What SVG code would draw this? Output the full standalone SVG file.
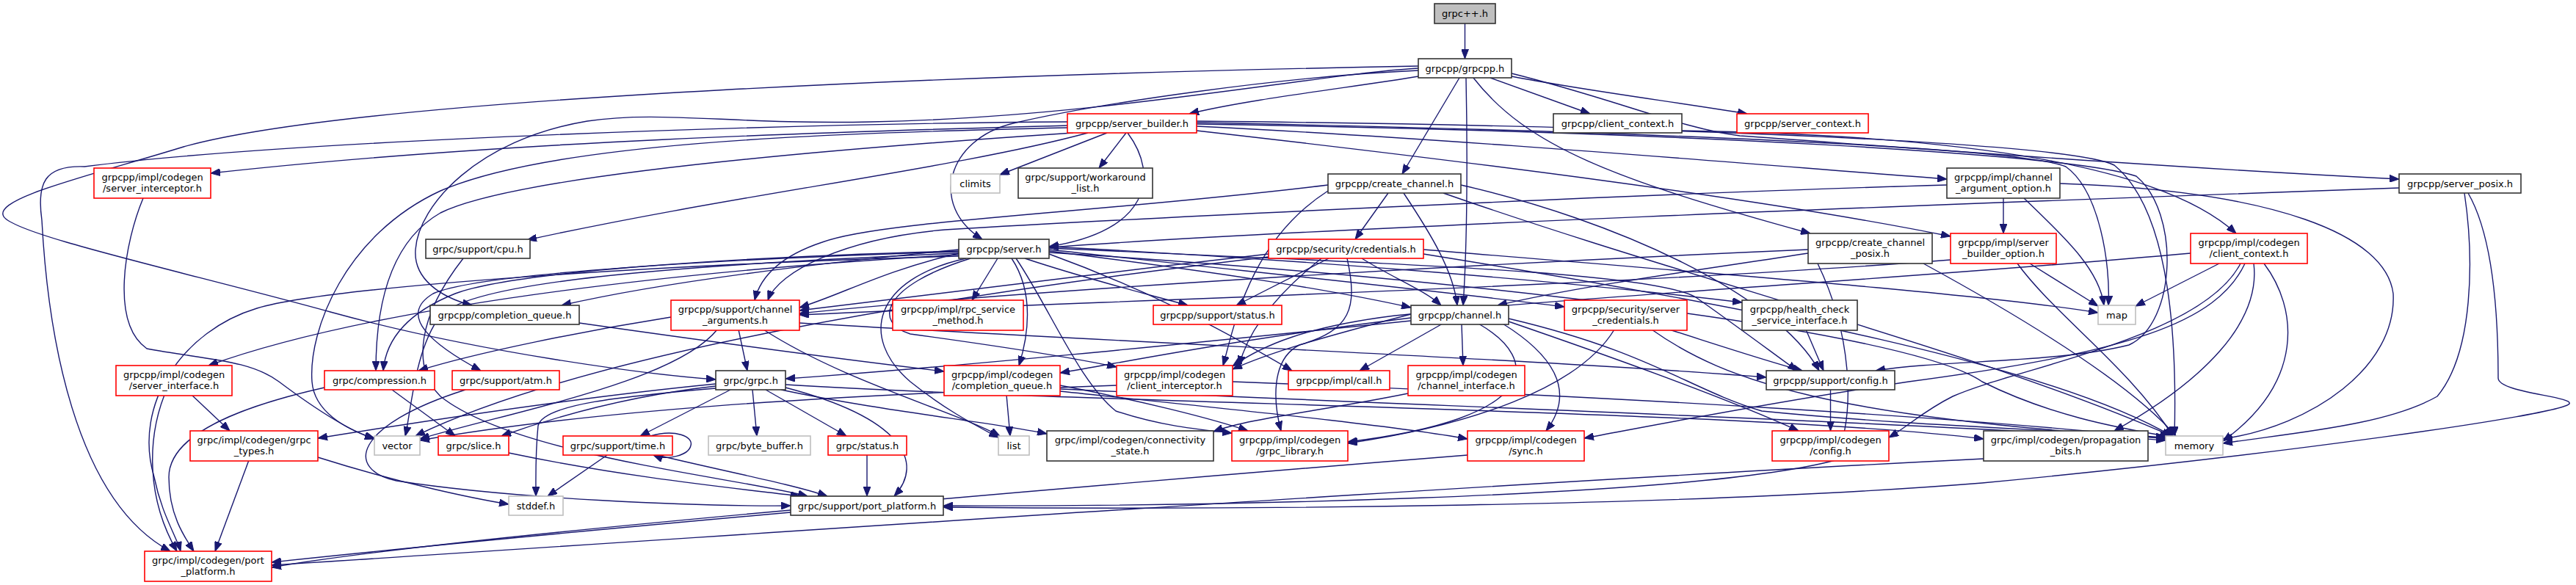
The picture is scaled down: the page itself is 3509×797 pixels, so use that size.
<svg xmlns="http://www.w3.org/2000/svg" width="3509" height="797" viewBox="0 0 3509 797">
<style>
.e{fill:none;stroke:#191970;stroke-width:1.4;marker-end:url(#ah)}
.n rect{fill:#fff;stroke:#333;stroke-width:1.6}
.r rect{fill:#fff;stroke:#ff0000;stroke-width:1.6}
.x rect{fill:#fff;stroke:#bfbfbf;stroke-width:1.6}
.root rect{fill:#bfbfbf;stroke:#333;stroke-width:1.6}
text{font-family:"DejaVu Sans","Liberation Sans",sans-serif;font-size:13px;text-anchor:middle;fill:#000}
</style>
<defs>
<marker id="ah" viewBox="0 0 13 10" refX="13" refY="5" markerUnits="userSpaceOnUse" markerWidth="13" markerHeight="10" orient="auto">
<path d="M0,0 L13,5 L0,10 z" fill="#191970" stroke="#191970"/>
</marker>
</defs>
<rect width="3509" height="797" fill="#fff"/>
<g id="edges">
<path class="e" d="M1995.5,32 L1995.5,80"/>
<path class="e" d="M1932,104 C1850,118 1700,135 1620,155"/>
<path class="e" d="M2030,106 L2166,155"/>
<path class="e" d="M2059,104 C2150,122 2290,140 2380,155"/>
<path class="e" d="M1988,106 L1910,237"/>
<path class="e" d="M1997,106 C1999,200 1999,330 1993,416"/>
<path class="e" d="M2007,106 C2080,200 2200,245 2466,318"/>
<path class="e" d="M2059,100 C2200,135 2290,175 2370,185 C2650,205 2950,228 3268,244"/>
<path class="e" d="M1932,96 C1750,104 1500,140 1380,168 C1290,190 1265,280 1338,326"/>
<path class="e" d="M1932,93 C1800,100 1500,160 1187,166 C1000,170 900,150 800,165 C650,190 570,280 566,340 C563,380 600,405 643,416"/>
<path class="e" d="M1932,90 C1400,100 500,130 250,200 C120,240 -10,270 5,295 C20,320 250,370 450,425 C650,480 880,510 975,517"/>
<path class="e" d="M1536,181 C1580,240 1565,315 1429,336"/>
<path class="e" d="M1508,181 L1362,238"/>
<path class="e" d="M1534,181 L1497,229"/>
<path class="e" d="M1482,181 C1300,230 1000,265 718,327"/>
<path class="e" d="M1454,171 C1200,178 700,190 287,236"/>
<path class="e" d="M1454,166 C1100,168 400,190 115,227 C60,225 50,250 57,300 C65,450 100,680 232,751"/>
<path class="e" d="M1454,174 C1100,182 750,195 600,260 C470,320 420,450 425,520 C428,560 470,585 510,597"/>
<path class="e" d="M1462,181 C1100,205 700,240 600,290 C530,330 512,420 512,505"/>
<path class="e" d="M1630,172 C2000,190 2400,225 2652,244"/>
<path class="e" d="M1630,178 C2000,220 2400,270 2657,322"/>
<path class="e" d="M1630,167 C2200,178 2750,200 2814,227 C2860,260 2875,360 2872,416"/>
<path class="e" d="M1630,165 C2300,172 2820,195 2880,225 C2960,290 2965,480 2962,594"/>
<path class="e" d="M1630,169 C2300,180 2820,210 2910,240 C2970,290 2965,440 2900,470 C2800,495 2650,490 2555,505"/>
<path class="e" d="M1306,345 C1200,370 1150,400 1089,419"/>
<path class="e" d="M1359,352 L1324,409"/>
<path class="e" d="M1396,352 C1480,380 1560,400 1618,416"/>
<path class="e" d="M1378,352 C1410,400 1400,460 1388,498"/>
<path class="e" d="M1316,352 C1190,380 1170,460 1240,520 C1290,560 1330,580 1360,596"/>
<path class="e" d="M1322,352 C1200,390 1190,440 1240,455 C1350,470 1450,485 1521,500"/>
<path class="e" d="M1384,352 C1430,420 1470,520 1520,560 C1580,580 1630,585 1678,590"/>
<path class="e" d="M1429,340 C1700,370 1950,395 2131,418"/>
<path class="e" d="M1429,336 C1800,355 2150,385 2373,412"/>
<path class="e" d="M1429,338 C1900,360 2250,370 2310,405 C2360,440 2400,470 2448,505"/>
<path class="e" d="M1429,342 C1650,370 1800,392 1922,419"/>
<path class="e" d="M1429,346 C1550,390 1650,440 1760,505"/>
<path class="e" d="M1306,340 C1100,360 900,385 765,416"/>
<path class="e" d="M1306,342 C1000,350 700,370 620,400 C545,430 525,470 522,505"/>
<path class="e" d="M1306,343 C1000,352 650,372 590,400 C540,430 590,470 655,505"/>
<path class="e" d="M1306,345 C900,362 640,385 600,430 C565,475 560,560 552,594"/>
<path class="e" d="M1429,344 C2000,380 2600,450 2700,520 C2800,570 2900,585 2955,595"/>
<path class="e" d="M1306,347 C900,370 500,420 284,498"/>
<path class="e" d="M1306,349 C900,360 450,390 350,420 C250,450 180,550 210,650 C220,700 240,730 246,751"/>
<path class="e" d="M1891,263 L1846,326"/>
<path class="e" d="M1912,263 C1950,320 1980,370 1985,416"/>
<path class="e" d="M1809,252 C1500,290 1200,300 1120,330 C1060,350 1035,380 1028,409"/>
<path class="e" d="M1809,260 C1700,330 1680,450 1666,498"/>
<path class="e" d="M1966,263 C2300,380 2700,480 2958,594"/>
<path class="e" d="M1990,252 C2200,300 2420,400 2478,505"/>
<path class="e" d="M1855,352 C1900,380 1940,395 1963,416"/>
<path class="e" d="M1810,352 L1684,416"/>
<path class="e" d="M1800,352 C1740,400 1700,450 1688,498"/>
<path class="e" d="M1835,352 C1850,420 1840,450 1770,470 C1730,490 1735,550 1745,587"/>
<path class="e" d="M1728,346 C1500,372 1250,402 1089,423"/>
<path class="e" d="M1939,340 C2300,370 2700,400 2858,426"/>
<path class="e" d="M1939,346 C2400,420 2800,500 2960,595"/>
<path class="e" d="M1728,350 C1300,400 800,480 566,594"/>
<path class="e" d="M2463,345 C2300,370 2150,390 2040,416"/>
<path class="e" d="M2463,340 C2000,360 1400,395 1089,427"/>
<path class="e" d="M2476,359 C2520,450 2530,560 2500,627 C2300,680 1600,690 1285,689"/>
<path class="e" d="M2620,359 C2750,430 2900,520 2964,594"/>
<path class="e" d="M3268,256 C2600,280 1800,310 1429,337"/>
<path class="e" d="M3357,263 C3370,350 3370,480 3320,540 C3250,580 3120,590 3028,604"/>
<path class="e" d="M3362,263 C3395,320 3403,420 3403,515 C3403,535 3505,540 3500,550 C3490,565 3100,620 2700,658 C2300,690 1700,695 1285,691"/>
<path class="e" d="M2291,178 C2700,185 2950,230 3046,318"/>
<path class="e" d="M2729,270 L2729,318"/>
<path class="e" d="M2757,270 C2820,330 2860,370 2866,416"/>
<path class="e" d="M2806,250 C3100,260 3250,320 3260,400 C3265,500 3150,580 3028,598"/>
<path class="e" d="M2652,252 C2200,265 1500,300 1287,313 C1150,325 1060,370 1046,409"/>
<path class="e" d="M2765,359 L2858,417"/>
<path class="e" d="M2748,359 C2800,430 2900,500 2960,594"/>
<path class="e" d="M2657,354 C2200,390 1500,410 1089,429"/>
<path class="e" d="M3023,359 L2909,417"/>
<path class="e" d="M3084,359 C3130,420 3140,520 3028,601"/>
<path class="e" d="M3070,359 C3080,440 3000,520 2880,587"/>
<path class="e" d="M3052,359 C3000,460 2750,500 2660,540 C2620,560 2600,580 2573,596"/>
<path class="e" d="M3058,359 C3020,440 2900,480 2600,520 C2400,550 2250,580 2158,597"/>
<path class="e" d="M2984,345 C2600,380 2200,400 1900,430 C1780,445 1720,470 1679,499"/>
<path class="e" d="M1965,441 L1852,505"/>
<path class="e" d="M1991,441 L1993,498"/>
<path class="e" d="M2047,441 C2110,480 2150,530 2106,587"/>
<path class="e" d="M2055,438 C2250,505 2380,555 2450,587"/>
<path class="e" d="M2014,441 C2100,490 2100,570 1836,602"/>
<path class="e" d="M2055,434 C2250,480 2300,530 2400,560 C2600,580 2800,585 2950,596"/>
<path class="e" d="M1922,428 C1800,460 1730,480 1679,503"/>
<path class="e" d="M1922,433 C1700,460 1550,490 1444,508"/>
<path class="e" d="M1922,437 C1600,470 1300,500 1070,516"/>
<path class="e" d="M2274,449 C2340,470 2400,490 2455,505"/>
<path class="e" d="M2250,449 C2350,520 2500,570 2950,597"/>
<path class="e" d="M2199,449 C2150,530 2000,580 1836,604"/>
<path class="e" d="M2460,449 L2484,505"/>
<path class="e" d="M2493.5,531 L2493.5,587"/>
<path class="e" d="M1006,449 L1018,505"/>
<path class="e" d="M914,432 C800,450 650,480 570,505"/>
<path class="e" d="M977,449 C920,520 700,560 572,598"/>
<path class="e" d="M1040,449 C1150,520 1300,560 1362,594"/>
<path class="e" d="M1089,440 C1600,470 2100,490 2406,514"/>
<path class="e" d="M1025,531 L1031,594"/>
<path class="e" d="M1043,531 L1153,594"/>
<path class="e" d="M1064,531 C1200,560 1350,575 1426,591"/>
<path class="e" d="M1070,524 C1500,550 2400,560 2702,598"/>
<path class="e" d="M1070,528 C1230,570 1260,630 1218,676"/>
<path class="e" d="M975,523 C800,540 600,570 433,597"/>
<path class="e" d="M975,526 C850,540 750,570 683,594"/>
<path class="e" d="M995,531 L872,594"/>
<path class="e" d="M975,529 C850,540 740,550 733,580 C729,620 730,650 730,676"/>
<path class="e" d="M886,594 C920,584 945,595 941,607 C938,620 910,628 890,620"/>
<path class="e" d="M827,620 L746,676"/>
<path class="e" d="M895,620 C1000,645 1080,660 1127,676"/>
<path class="e" d="M693,617 C850,650 1000,665 1090,676"/>
<path class="e" d="M634,531 C480,580 470,640 540,655 C700,680 950,690 1077,689"/>
<path class="e" d="M1181,620 L1181,676"/>
<path class="e" d="M631,352 C570,430 560,500 600,540 C700,620 1000,650 1100,676"/>
<path class="e" d="M261,538 L313,587"/>
<path class="e" d="M224,538 C200,600 200,680 241,751"/>
<path class="e" d="M339,627 L293,751"/>
<path class="e" d="M433,623 C550,660 650,680 693,687"/>
<path class="e" d="M442,528 C300,560 230,600 230,650 C230,700 250,730 264,751"/>
<path class="e" d="M534,531 L620,594"/>
<path class="e" d="M195,270 C170,330 150,440 200,475 C280,490 340,490 380,520 C420,550 470,585 510,598"/>
<path class="e" d="M789,440 C1000,470 1150,490 1286,506"/>
<path class="e" d="M1371,538 L1376,594"/>
<path class="e" d="M1444,525 C1550,545 1650,570 1700,587"/>
<path class="e" d="M1444,530 C2000,555 2700,580 2950,600"/>
<path class="e" d="M1444,533 C1700,560 1900,580 1999,598"/>
<path class="e" d="M1679,520 C2200,540 2700,570 2950,598"/>
<path class="e" d="M1521,525 C1100,540 800,560 572,600"/>
<path class="e" d="M1918,536 C1800,560 1700,570 1653,588"/>
<path class="e" d="M1999,620 C1500,660 800,720 370,766"/>
<path class="e" d="M2702,625 C2000,660 1000,730 370,770"/>
<path class="e" d="M1077,695 C800,720 500,750 370,773"/>
</g>
<g id="n1" class="root"><rect x="1954" y="5" width="83" height="27"/><text x="1995.5" y="23">grpc++.h</text></g>
<g id="n2" class="n"><rect x="1932" y="80" width="127" height="26"/><text x="1995.5" y="97.5">grpcpp/grpcpp.h</text></g>
<g id="n3" class="r"><rect x="1454" y="155" width="176" height="26"/><text x="1542" y="172.5">grpcpp/server_builder.h</text></g>
<g id="n4" class="n"><rect x="2116" y="155" width="175" height="26"/><text x="2203.5" y="172.5">grpcpp/client_context.h</text></g>
<g id="n5" class="r"><rect x="2366" y="155" width="179" height="26"/><text x="2455.5" y="172.5">grpcpp/server_context.h</text></g>
<g id="n6" class="r"><rect x="128" y="229" width="159" height="41"/><text x="207.5" y="246">grpcpp/impl/codegen</text><text x="207.5" y="261">/server_interceptor.h</text></g>
<g id="n7" class="x"><rect x="1295" y="237" width="67" height="26"/><text x="1328.5" y="254.5">climits</text></g>
<g id="n8" class="n"><rect x="1387" y="229" width="183" height="41"/><text x="1478.5" y="246">grpc/support/workaround</text><text x="1478.5" y="261">_list.h</text></g>
<g id="n9" class="n"><rect x="1809" y="237" width="181" height="26"/><text x="1899.5" y="254.5">grpcpp/create_channel.h</text></g>
<g id="n10" class="n"><rect x="2652" y="229" width="154" height="41"/><text x="2729" y="246">grpcpp/impl/channel</text><text x="2729" y="261">_argument_option.h</text></g>
<g id="n11" class="n"><rect x="3268" y="237" width="166" height="26"/><text x="3351" y="254.5">grpcpp/server_posix.h</text></g>
<g id="n12" class="n"><rect x="580" y="326" width="142" height="26"/><text x="651" y="343.5">grpc/support/cpu.h</text></g>
<g id="n13" class="n"><rect x="1306" y="326" width="123" height="26"/><text x="1367.5" y="343.5">grpcpp/server.h</text></g>
<g id="n14" class="r"><rect x="1728" y="326" width="211" height="26"/><text x="1833.5" y="343.5">grpcpp/security/credentials.h</text></g>
<g id="n15" class="n"><rect x="2463" y="318" width="169" height="41"/><text x="2547.5" y="335">grpcpp/create_channel</text><text x="2547.5" y="350">_posix.h</text></g>
<g id="n16" class="r"><rect x="2657" y="318" width="144" height="41"/><text x="2729" y="335">grpcpp/impl/server</text><text x="2729" y="350">_builder_option.h</text></g>
<g id="n17" class="r"><rect x="2984" y="318" width="159" height="41"/><text x="3063.5" y="335">grpcpp/impl/codegen</text><text x="3063.5" y="350">/client_context.h</text></g>
<g id="n18" class="n"><rect x="586" y="416" width="203" height="26"/><text x="687.5" y="433.5">grpcpp/completion_queue.h</text></g>
<g id="n19" class="r"><rect x="914" y="409" width="175" height="41"/><text x="1001.5" y="426">grpcpp/support/channel</text><text x="1001.5" y="441">_arguments.h</text></g>
<g id="n20" class="r"><rect x="1216" y="409" width="178" height="41"/><text x="1305" y="426">grpcpp/impl/rpc_service</text><text x="1305" y="441">_method.h</text></g>
<g id="n21" class="r"><rect x="1571" y="416" width="175" height="26"/><text x="1658.5" y="433.5">grpcpp/support/status.h</text></g>
<g id="n22" class="n"><rect x="1922" y="416" width="133" height="26"/><text x="1988.5" y="433.5">grpcpp/channel.h</text></g>
<g id="n23" class="r"><rect x="2131" y="409" width="167" height="41"/><text x="2214.5" y="426">grpcpp/security/server</text><text x="2214.5" y="441">_credentials.h</text></g>
<g id="n24" class="n"><rect x="2373" y="409" width="157" height="41"/><text x="2451.5" y="426">grpcpp/health_check</text><text x="2451.5" y="441">_service_interface.h</text></g>
<g id="n25" class="x"><rect x="2858" y="416" width="51" height="26"/><text x="2883.5" y="433.5">map</text></g>
<g id="n26" class="r"><rect x="158" y="498" width="158" height="41"/><text x="237" y="515">grpcpp/impl/codegen</text><text x="237" y="530">/server_interface.h</text></g>
<g id="n27" class="r"><rect x="442" y="505" width="150" height="26"/><text x="517" y="522.5">grpc/compression.h</text></g>
<g id="n28" class="r"><rect x="616" y="505" width="146" height="26"/><text x="689" y="522.5">grpc/support/atm.h</text></g>
<g id="n29" class="n"><rect x="975" y="505" width="95" height="26"/><text x="1022.5" y="522.5">grpc/grpc.h</text></g>
<g id="n30" class="r"><rect x="1286" y="498" width="158" height="41"/><text x="1365" y="515">grpcpp/impl/codegen</text><text x="1365" y="530">/completion_queue.h</text></g>
<g id="n31" class="r"><rect x="1521" y="498" width="158" height="41"/><text x="1600" y="515">grpcpp/impl/codegen</text><text x="1600" y="530">/client_interceptor.h</text></g>
<g id="n32" class="r"><rect x="1755" y="505" width="138" height="26"/><text x="1824" y="522.5">grpcpp/impl/call.h</text></g>
<g id="n33" class="r"><rect x="1918" y="498" width="159" height="41"/><text x="1997.5" y="515">grpcpp/impl/codegen</text><text x="1997.5" y="530">/channel_interface.h</text></g>
<g id="n34" class="n"><rect x="2406" y="505" width="175" height="26"/><text x="2493.5" y="522.5">grpcpp/support/config.h</text></g>
<g id="n35" class="r"><rect x="259" y="587" width="174" height="41"/><text x="346" y="604">grpc/impl/codegen/grpc</text><text x="346" y="619">_types.h</text></g>
<g id="n36" class="x"><rect x="510" y="594" width="62" height="26"/><text x="541" y="611.5">vector</text></g>
<g id="n37" class="r"><rect x="597" y="594" width="96" height="26"/><text x="645" y="611.5">grpc/slice.h</text></g>
<g id="n38" class="r"><rect x="767" y="594" width="149" height="26"/><text x="841.5" y="611.5">grpc/support/time.h</text></g>
<g id="n39" class="x"><rect x="965" y="594" width="139" height="26"/><text x="1034.5" y="611.5">grpc/byte_buffer.h</text></g>
<g id="n40" class="r"><rect x="1128" y="594" width="107" height="26"/><text x="1181.5" y="611.5">grpc/status.h</text></g>
<g id="n41" class="x"><rect x="1360" y="594" width="42" height="26"/><text x="1381" y="611.5">list</text></g>
<g id="n42" class="n"><rect x="1426" y="587" width="227" height="41"/><text x="1539.5" y="604">grpc/impl/codegen/connectivity</text><text x="1539.5" y="619">_state.h</text></g>
<g id="n43" class="r"><rect x="1678" y="587" width="158" height="41"/><text x="1757" y="604">grpcpp/impl/codegen</text><text x="1757" y="619">/grpc_library.h</text></g>
<g id="n44" class="r"><rect x="1999" y="587" width="159" height="41"/><text x="2078.5" y="604">grpcpp/impl/codegen</text><text x="2078.5" y="619">/sync.h</text></g>
<g id="n45" class="r"><rect x="2414" y="587" width="159" height="41"/><text x="2493.5" y="604">grpcpp/impl/codegen</text><text x="2493.5" y="619">/config.h</text></g>
<g id="n46" class="n"><rect x="2702" y="587" width="224" height="41"/><text x="2814" y="604">grpc/impl/codegen/propagation</text><text x="2814" y="619">_bits.h</text></g>
<g id="n47" class="x"><rect x="2950" y="594" width="78" height="26"/><text x="2989" y="611.5">memory</text></g>
<g id="n48" class="x"><rect x="693" y="676" width="74" height="26"/><text x="730" y="693.5">stddef.h</text></g>
<g id="n49" class="n"><rect x="1077" y="676" width="208" height="26"/><text x="1181" y="693.5">grpc/support/port_platform.h</text></g>
<g id="n50" class="r"><rect x="197" y="751" width="173" height="41"/><text x="283.5" y="768">grpc/impl/codegen/port</text><text x="283.5" y="783">_platform.h</text></g>
</svg>
